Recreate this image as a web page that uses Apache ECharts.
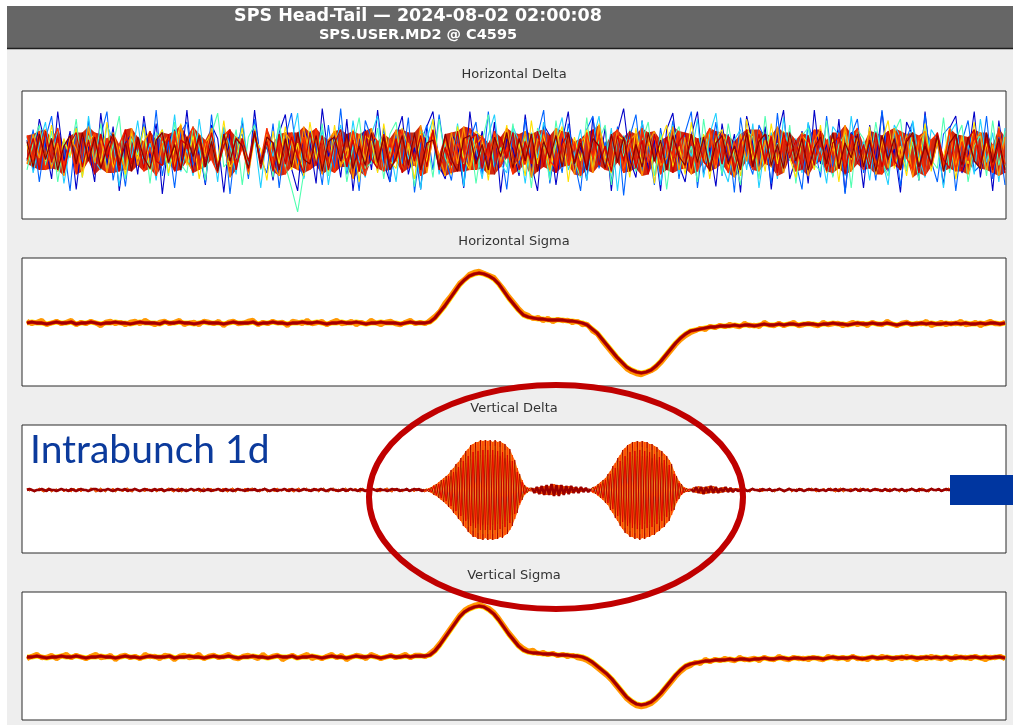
<!DOCTYPE html>
<html>
<head>
<meta charset="utf-8">
<script src="https://cdn.jsdelivr.net/npm/echarts@6/dist/echarts.min.js"></script>
<style>
html, body { margin: 0; padding: 0; background: #ffffff; }
#frame { position: absolute; left: 7px; top: 6px; width: 1006px; height: 719px; background: #eeeeee; }
#chart { position: absolute; left: 0; top: 0; width: 1013px; height: 725px; }
</style>
</head>
<body>
<div id="frame"></div>
<div id="chart"></div>
<script>
// ---- Panel titles and header text ----
const headerTitle = 'SPS Head-Tail \u2014 2024-08-02 02:00:08';
const headerSub = 'SPS.USER.MD2 @ C4595';
const panelTitles = ['Horizontal Delta', 'Horizontal Sigma', 'Vertical Delta', 'Vertical Sigma'];
const noteText = 'Intrabunch 1d';

// ---- Horizontal Delta: turn-by-turn traces (160 slices each), first turn -> last turn ----
const hDeltaColors = ['#0000c8', '#0064ff', '#20d0ff', '#50ffb0', '#ffe000', '#ff9000', '#ff3000', '#d00000', '#8b0000'];
const hDelta1 = [8,-12,22,5,-18,27,-6,14,-25,10,3,-20,26,-9,17,-26,6,12,-15,24,
-4,19,-28,7,15,-10,28,-14,2,-22,18,9,-27,12,-5,21,-16,28,-8,4,
-19,13,25,-11,-26,16,6,-21,29,-3,11,-17,22,-26,8,15,-12,28,-7,-20,
10,24,-15,3,-25,17,27,-9,-18,12,5,-24,27,-6,14,-13,20,-27,9,2,
-16,25,-8,-26,18,11,-22,7,27,-14,4,-19,23,-10,16,-26,13,29,-5,-17,
21,-12,8,-26,15,26,-9,-20,11,27,-15,3,-23,19,-7,12,-27,24,6,-11,
17,-25,10,28,-18,-4,14,-21,28,-8,5,-16,22,-27,13,9,-24,18,-6,27,
-13,2,-27,20,11,-19,27,-10,7,-22,16,24,-14,-3,27,-17,12,-26,21,-9];
const hDelta2 = [-6,15,-20,9,24,-13,4,-26,17,-8,21,-15,11,27,-19,5,-23,14,-2,19,
-11,28,-16,7,-24,13,20,-9,3,-21,25,-12,16,-28,8,12,-18,22,-5,-14,
19,-24,10,26,-7,-17,14,4,-22,18,-11,29,-15,6,-26,21,9,-13,16,-20,
12,-8,23,-27,5,18,-12,25,-4,-19,13,-23,8,20,-15,27,-10,3,-25,14,
-9,22,-17,11,28,-21,6,-14,19,-6,-26,15,24,-11,7,-20,17,-29,10,25,
-13,4,-22,16,-8,21,-18,13,27,-24,9,-5,20,-16,12,-27,23,-3,-15,18,
8,-21,26,-12,14,-7,-25,19,5,-17,24,-10,15,-28,11,22,-14,6,-19,28,
-4,13,-23,9,20,-16,25,-6,-20,12,17,-26,7,21,-13,-9,24,-18,10,-22];
const hDelta3 = [10,-14,5,20,-9,16,-21,3,13,-17,24,-6,-12,18,8,-23,14,-4,21,-11,
6,-19,15,-8,25,-13,2,-16,22,-7,11,-20,17,4,-15,23,-10,9,-24,12,
-3,19,-14,7,26,-18,10,-9,15,-22,5,18,-13,21,-6,-17,12,24,-11,3,
-20,16,-5,13,-25,9,22,-15,6,-10,19,-23,14,2,-18,11,25,-8,-14,17,
7,-21,13,-4,20,-16,9,23,-12,-2,15,-19,8,24,-10,16,-26,11,4,-13,
21,-7,14,-22,6,18,-15,10,-3,22,-17,12,26,-9,-20,8,15,-12,19,-24,
5,13,-18,23,-6,9,-14,20,-11,3,-21,17,11,-16,24,-8,7,-19,14,-5,
-22,18,10,-13,21,-4,-17,15,8,-24,12,19,-10,5,-15,22,-7,13,-20,16];
const hDelta4 = [-12,6,18,-9,14,-20,8,-4,22,-15,11,-7,19,-13,5,24,-18,9,-2,16,
-21,13,7,-16,20,-8,-14,17,3,-19,12,26,-10,-5,15,-22,10,18,-12,6,
-17,21,-9,-24,-40,-14,11,-6,19,-16,8,14,-20,4,23,-11,-7,16,-18,12,
20,-13,6,-23,15,9,-17,22,-4,-12,18,-8,13,-21,7,25,-15,3,-10,19,
-14,11,-24,16,5,-19,21,-9,14,-6,-17,23,-12,8,18,-22,10,-3,15,-13,
7,20,-16,12,-25,9,17,-11,4,-20,22,-7,13,-15,19,-4,-22,14,10,-18,
24,-9,6,-14,18,-21,11,16,-8,-13,21,-17,5,12,-24,15,9,-10,20,-6,
-16,13,22,-12,7,-19,17,-5,-11,23,-14,8,18,-20,4,11,-16,21,-9,14];
const hDelta5 = [5,-10,14,-6,18,-13,9,-3,16,-17,7,12,-8,20,-11,4,-15,13,-5,17,
-12,8,15,-14,3,19,-9,11,-18,6,13,-7,21,-10,-4,16,-15,9,2,-19,
14,-8,17,-12,6,-16,20,-5,10,-13,18,-9,-3,15,-20,11,7,-14,19,-6,
-11,16,4,-18,12,-7,22,-10,8,-15,17,-4,-12,14,9,-19,13,-2,18,-11,
6,-16,21,-8,12,-13,5,17,-20,10,-6,15,-12,19,-3,-14,11,8,-17,16,
-9,13,-21,7,18,-10,4,-15,20,-7,12,-18,9,15,-11,3,-16,22,-6,10,
-13,19,-8,14,-4,-17,11,6,-12,18,-14,9,-20,16,-5,12,-9,17,-15,7,
21,-11,4,-16,13,-7,19,-13,8,-3,15,-18,10,-8,20,-12,6,-14,17,-10];
const hDelta6 = [-8,12,-4,15,-11,6,-16,10,2,-13,17,-7,9,-14,13,-2,-12,16,-9,7,
14,-15,5,11,-10,18,-6,-13,12,-3,16,-11,8,-17,10,4,-14,15,-7,12,
-9,-16,13,7,-12,17,-5,10,-15,8,14,-10,3,-18,12,-6,16,-11,9,-4,
15,-13,6,-9,18,-14,11,-2,-16,13,-8,17,-12,5,10,-15,12,-7,16,-10,
-5,14,-17,9,3,-12,16,-8,13,-15,7,11,-14,18,-6,-10,15,-13,8,12,
-16,6,14,-9,-4,17,-12,10,-15,9,-7,16,-11,13,4,-17,12,-6,15,-13,
8,-10,17,-14,11,-5,13,-16,7,15,-12,3,-9,18,-13,10,-7,14,-15,9,
-11,16,-4,12,-17,8,14,-10,6,-13,16,-9,11,-15,7,13,-12,5,-16,10];
const hDelta7 = [11,-6,14,-12,4,16,-10,7,-15,12,-3,13,-11,9,-14,5,15,-8,10,-13,
3,-16,12,-7,14,-10,6,17,-12,8,-5,-14,11,15,-9,3,-13,12,-6,16,
-11,8,-15,13,-4,10,-12,16,-8,5,-14,11,-10,14,-3,-16,12,7,-13,9,
-6,15,-11,12,-16,4,13,-9,10,-14,6,-7,16,-12,11,-5,14,-10,3,-15,
12,-8,10,-13,15,-6,-11,14,-9,7,-16,13,-4,11,-12,9,15,-14,6,-10,
16,-7,12,-15,8,-3,14,-11,10,-13,5,16,-9,12,-14,7,-5,13,-12,15,
-8,11,-16,9,4,-13,12,-10,15,-6,8,-14,13,-11,6,16,-12,10,-7,-15,
13,-9,14,-4,-12,11,-16,8,12,-10,15,-13,7,-6,14,-11,9,-14,16,-8];
const hDelta8 = [-5,9,-12,14,-7,11,-14,6,13,-10,8,-15,12,-4,10,-13,15,-8,7,-11,
14,-6,-9,12,-13,8,5,-14,11,-7,13,-10,4,15,-12,9,-6,14,-11,7,
-13,12,-8,10,-3,-14,13,-9,11,-12,6,15,-10,8,-13,14,-5,-11,12,-7,
9,-14,13,-6,11,-10,15,-12,3,-9,14,-13,8,12,-11,6,-15,10,-4,13,
-12,7,-8,14,-10,11,-14,5,13,-7,9,-12,15,-9,4,-13,11,-6,14,-11,
8,-15,12,-5,10,-14,7,13,-11,9,-6,-12,14,-8,11,-13,6,15,-10,12,
-7,10,-14,13,-4,8,-12,11,-9,14,-13,6,10,-15,12,-8,5,-11,13,-10,
14,-6,-12,9,11,-14,7,-9,13,-5,-11,12,-13,8,15,-7,10,-12,6,-14];
const hDelta9 = [7,-10,12,-5,9,-12,4,11,-8,13,-6,10,-11,3,12,-9,6,-13,10,-4,
-11,8,13,-7,5,-12,10,-3,11,-10,7,-13,12,-6,9,4,-11,13,-8,10,
6,-12,9,-10,13,-5,-8,11,-13,7,10,-6,12,-11,4,-9,13,-7,10,-12,
-4,11,-9,13,-12,6,8,-10,12,-5,-13,9,11,-8,5,-12,10,-3,13,-11,
9,-6,12,-13,7,-4,11,-10,13,-8,6,-12,9,4,-11,12,-7,10,-13,5,
-10,13,-6,8,-12,11,-3,-9,12,-7,10,-13,6,11,-8,4,-12,13,-10,7,
12,-9,5,-11,13,-6,9,-12,3,10,-8,13,-11,6,-4,12,-10,8,-13,11,
-5,9,-12,7,13,-10,4,-8,11,-13,6,12,-9,10,-6,-11,13,-7,9,-12];

// ---- Horizontal Sigma (200 slices): early turn and late turn ----
const hSigmaEarly = [2,-1,1,3,-2,0,2,-1,1,3,-2,1,-1,2,0,-3,1,2,-1,1,
-2,1,2,-1,3,0,-2,1,2,-1,1,3,-2,0,1,-2,2,1,-1,2,
-3,1,2,-1,0,2,3,-2,1,-1,2,0,1,-3,2,1,-1,3,-1,0,
2,-2,1,3,-1,0,2,-2,1,-1,3,0,-2,1,2,-1,-2,1,3,-1,
1,-1,3,7,12,20,26,33,40,44,49,51,52,50,48,46,40,34,27,21,
15,10,8,4,6,2,5,1,4,2,3,0,2,-2,-1,-8,-11,-18,-24,-30,
-36,-41,-46,-49,-51,-52,-50,-48,-45,-40,-34,-28,-22,-17,-13,-10,-8,-5,-7,-3,
-5,-2,-4,-1,-3,-4,0,-3,-2,-4,1,-2,-3,0,-3,-1,1,-3,-2,0,
-2,-3,1,-2,-1,0,-3,-1,1,-2,0,-3,1,-1,-2,2,-1,-3,0,1,
-2,0,-1,2,-3,-1,1,-2,0,-1,2,-2,-1,1,-3,0,2,-1,-1,1];
const hSigmaLate = [0,1,0,0,-1,0,1,0,0,1,-1,0,0,1,0,-1,0,0,1,0,
0,-1,0,1,0,0,0,-1,1,0,0,1,0,0,-1,0,1,0,0,0,
-1,0,1,0,0,0,1,-1,0,0,1,0,0,-1,0,0,1,0,0,1,
0,-1,0,0,1,0,0,1,0,-1,0,0,1,0,0,0,-1,0,1,0,
0,0,1,5,11,17,24,31,38,43,47,49,50,49,47,44,39,32,25,19,
13,8,6,5,4,4,3,3,3,3,2,2,1,0,-2,-6,-10,-16,-22,-28,
-34,-39,-44,-47,-49,-50,-49,-47,-43,-38,-32,-26,-20,-15,-11,-8,-7,-6,-5,-4,
-4,-3,-3,-3,-2,-3,-2,-2,-3,-2,-1,-2,-2,-1,-2,-1,-1,-2,-1,-1,
-1,-2,-1,-1,0,-1,-1,-2,-1,0,-1,-1,0,-1,-1,0,-1,-2,-1,0,
-1,-1,0,-1,0,-1,-1,0,-1,0,-1,0,-1,-1,0,-1,0,0,-1,0];

// ---- Vertical Sigma (200 slices): early turn and late turn ----
const vSigmaEarly = [-2,1,3,-1,0,2,-2,1,3,-1,2,0,-2,1,3,-1,0,2,-3,1,
2,-1,1,-2,3,0,1,-2,2,1,-3,1,2,-1,0,3,-2,1,2,-1,
1,3,-1,-2,1,2,0,-2,3,-1,1,2,-3,0,2,-1,1,3,-2,0,
-2,1,3,-1,2,-3,0,2,1,-2,3,1,-2,0,2,-1,1,3,-1,2,
2,0,4,8,14,21,28,35,42,47,50,52,53,51,49,45,39,32,25,19,
13,9,6,7,3,5,2,4,1,3,0,2,-1,-2,-4,-7,-11,-15,-19,-24,
-30,-36,-42,-46,-49,-50,-49,-47,-43,-38,-32,-26,-20,-15,-11,-9,-5,-7,-2,-5,
-2,-4,-1,-3,-4,0,-3,-2,-1,-4,0,-2,-3,1,-2,-3,0,-2,-1,-3,
0,-2,-3,1,-1,-2,0,-3,1,-2,-1,-3,0,-2,1,-1,-3,0,-2,1,
-1,-3,0,-2,1,-1,-2,0,-3,1,-1,0,-2,1,-1,-3,0,-1,1,-2];
const vSigmaLate = [0,0,1,0,-1,0,0,1,0,0,1,0,-1,0,0,1,0,0,-1,0,
1,0,0,-1,0,1,0,0,0,1,-1,0,0,1,0,0,-1,0,1,0,
0,1,0,-1,0,0,1,0,0,-1,0,1,0,0,1,-1,0,0,1,0,
-1,0,1,0,0,-1,0,1,0,0,1,0,-1,0,1,0,0,1,0,1,
1,1,2,6,12,19,26,33,40,45,48,50,51,50,47,43,37,30,23,17,
11,7,5,4,4,3,3,3,2,2,2,1,1,0,-2,-5,-9,-13,-17,-22,
-28,-34,-40,-44,-47,-48,-47,-45,-41,-36,-30,-24,-18,-13,-9,-7,-6,-5,-4,-4,
-3,-3,-3,-2,-3,-2,-2,-3,-2,-2,-1,-2,-2,-1,-1,-2,-1,-1,-2,-1,
-1,-1,-2,-1,0,-1,-1,-1,0,-1,-2,-1,0,-1,-1,0,-1,-1,0,-1,
0,-1,-1,0,-1,0,-1,0,-1,-1,0,-1,0,0,-1,0,-1,0,0,-1];

// ---- Vertical Delta (400 slices) split into segments: lead, burst 1, gap, burst 2, tail ----
const vdLeadA = [0,1,0,-1,0,0,1,0,-1,1,0,0,-1,0,1,0,0,-1,1,0,
-1,0,1,0,0,-1,0,1,1,0,-1,0,0,1,0,-1,0,1,0,0,
1,-1,0,0,1,0,-1,0,1,0,0,-1,1,0,0,1,-1,0,0,1,
0,0,-1,1,0,-1,0,1,0,0,1,0,-1,0,1,-1,0,0,1,0,
-1,1,0,0,-1,0,1,0,0,-1,1,0,0,1,-1,0,0,1,0,-1,
0,1,-1,0,0,1,0,-1,1,0,0,-1,0,1,0,0,-1,1,0,0,
1,0,-1,0,1,0,0,-1,0,1,-1,0,1,0,0,-1,1,0,-1,0,
0,1,0,-1,1,0,0,-1,0,1,0,1,-1,0,0,1,-1,0,1,0,
1,-1,0];
const vdLeadB = [2,-1,1,-2,0,2,-1,-2,1,2,-2,0,1,-1,2,-2,1,0,-2,2,
-1,2,-2,1,0,-1,2,1,-2,-1,2,0,-2,1,-1,2,-2,0,1,-2,
1,2,-1,-2,2,0,-1,1,-2,2,-1,1,0,-2,2,-1,-2,1,2,-1,
-2,1,2,-2,0,1,-1,2,-2,1,-1,-2,2,0,-1,2,-2,1,1,-2,
2,-1,-2,1,2,-2,0,1,-1,2,-2,1,2,-1,0,-2,1,2,-2,-1,
1,-2,2,0,-1,1,-2,2,-1,-2,1,2,-1,0,2,-2,1,-1,2,-2,
0,2,-1,-2,1,2,-2,1,-1,0,2,-2,1,-1,2,-1,-2,2,0,1,
-2,1,-1,2,-2,0,1,2,-1,-2,2,-1,1,-2,0,2,-1,1,-2,2,
-1,1,-2];
const vdGapA = [2,-3,3,-4,4,-5,5,-5,6,-6,5,-6,5,-5,4,-4,4,-3,3,-3,3,-2,2,-2,1];
const vdGapB = [-1,2,-3,3,-4,4,-5,4,-5,6,-5,5,-4,4,-3,4,-3,3,-2,2,-2,2,-1,1,-1];
const vdTailA = [1,-2,3,-3,3,-4,3,-3,4,-3,3,-3,2,-2,3,-2,2,-2,1,-1,
0,1,0,-1,0,1,0,0,-1,1,0,0,1,-1,0,0,1,0,-1,0,
1,0,0,-1,1,0,-1,0,1,0,0,1,-1,0,0,-1,1,0,0,1,
-1,0,1,0,0,-1,0,1,0,-1,1,0,0,-1,0,1,0,0,-1,1,
0,-1,0,1,0,0,1,-1,0,0,1,0,-1,1,0,0,-1,0,1,0,
0,1,-1,0,1,0,0,-1,1,0,0,-1,0,1,-1,0,0,1,0,-1,
1,0,0,-1,0,1,0,-1,0];
const vdTailB = [-1,3,-3,4,-4,3,-4,4,-3,4,-3,2,-3,3,-2,2,-2,2,-1,2,
-2,1,2,-1,-2,2,0,-1,2,-2,1,-1,2,0,-2,1,2,-1,-2,1,
2,-2,0,1,-1,2,-2,1,-1,2,0,-2,1,-1,2,-2,1,2,-1,-2,
1,2,-2,0,-1,2,-1,1,-2,2,0,-1,2,-2,1,-1,2,-2,0,1,
-2,2,-1,1,0,-2,2,-1,-2,1,2,-1,0,-2,2,1,-1,-2,2,0,
-1,2,-2,1,-1,2,0,-2,1,2,-1,-2,1,-1,2,-2,0,1,-1,2,
-2,1,0,-1,2,-2,1,-1,2];

// burst 1 (43 slices) per turn
const vdBurst1A = [1,-2,3,-5,6,-8,10,-12,14,-17,20,-23,26,-29,32,-36,39,-42,45,-47,48,-49,50,-50,50,-50,50,-50,50,-49,49,-48,46,-44,41,-36,30,-23,16,-10,5,-3,2];
const vdBurst1B = [-1,2,-3,5,-6,8,-10,12,-14,16,-19,22,-25,28,-31,35,-38,41,-44,46,-47,48,-49,49,-48,49,-49,48,-49,48,-47,47,-45,43,-40,35,-29,22,-15,10,-5,3,-1];
const vdBurst1C = [1,-1,3,-4,5,-7,9,-11,12,-15,18,-20,23,-26,28,-32,34,-37,40,-41,42,-43,44,-44,44,-44,44,-44,44,-43,43,-42,40,-39,36,-32,26,-20,14,-9,4,-3,1];
const vdBurst1D = [-1,1,-2,4,-5,6,-8,10,-11,14,-16,18,-21,23,-26,29,-31,34,-36,38,-38,39,-40,40,-40,40,-40,40,-40,39,-39,38,-37,35,-33,29,-24,18,-13,8,-4,2,-1];
const vdBurst1E = [0,-1,2,-3,4,-5,6,-7,8,-10,12,-14,16,-17,19,-22,23,-25,27,-28,29,-29,30,-30,30,-30,30,-30,30,-29,29,-29,28,-26,25,-22,18,-14,10,-6,3,-2,1];
const vdBurst1F = [1,-1,2,-3,4,-6,7,-8,10,-12,14,-16,18,-20,22,-25,27,-29,31,-33,34,-34,35,-35,35,-35,35,-35,35,-34,34,-34,32,-31,29,-25,21,-16,11,-7,3,-2,1];
// burst 2 (40 slices) per turn
const vdBurst2A = [3,-4,6,-8,10,-13,16,-20,24,-28,32,-36,40,-43,45,-47,48,-49,49,-50,49,-49,48,-47,46,-45,43,-41,39,-37,34,-31,26,-20,14,-9,6,-3,2,-2];
const vdBurst2B = [-3,4,-6,8,-10,12,-15,19,-23,27,-31,35,-39,42,-44,46,-47,48,-48,48,-48,48,-47,46,-45,44,-42,40,-38,36,-33,30,-25,19,-13,9,-5,3,-2,1];
const vdBurst2C = [2,-3,5,-7,9,-11,14,-17,21,-25,28,-32,35,-38,40,-41,42,-43,43,-44,43,-43,42,-41,40,-40,38,-36,34,-33,30,-27,23,-18,12,-8,5,-3,2,-1];
const vdBurst2D = [-2,3,-5,6,-8,10,-13,16,-19,22,-26,29,-32,34,-36,38,-38,39,-39,40,-39,39,-38,38,-37,36,-34,33,-31,30,-27,25,-21,16,-11,7,-5,2,-2,1];
const vdBurst2E = [2,-2,4,-5,6,-8,10,-12,14,-17,19,-22,24,-26,27,-28,29,-29,29,-30,29,-29,29,-28,28,-27,26,-25,23,-22,20,-19,16,-12,8,-5,4,-2,1,-1];
const vdBurst2F = [2,-3,4,-6,7,-9,11,-14,17,-20,22,-25,28,-30,32,-33,34,-34,34,-35,34,-34,34,-33,32,-32,30,-29,27,-26,24,-22,18,-14,10,-6,4,-2,1,-1];

// ---- Layout ----
const PANEL_LEFT = 22, PANEL_WIDTH = 984;
const panelTops = [91, 258, 425, 592];
const panelHeight = 128;
const panelCenterX = PANEL_LEFT + PANEL_WIDTH / 2;

const chart = echarts.init(document.getElementById('chart'), null, { renderer: 'canvas' });

const common = { silent: true, animation: false, clip: true, emphasis: { disabled: true } };

function trace(values, panel, color, width) {
  return Object.assign({
    type: 'line', xAxisIndex: panel, yAxisIndex: panel,
    data: values.map((v, i) => [i, v]),
    symbol: 'none', showSymbol: false,
    lineStyle: { color: color, width: width },
    itemStyle: { color: color }
  }, common);
}

// filled spread between the lowest and highest of several turns at every slice
function spread(traces, panel, color, opacity) {
  const lo = [], hi = [];
  for (let i = 0; i < traces[0].length; i++) {
    let a = Infinity, b = -Infinity;
    traces.forEach(t => { a = Math.min(a, t[i]); b = Math.max(b, t[i]); });
    lo.push(a);
    hi.push(b);
  }
  return Object.assign({
    type: 'custom', coordinateSystem: 'cartesian2d', xAxisIndex: panel, yAxisIndex: panel,
    data: [[0, 0]],
    renderItem: function (params, api) {
      const pts = [];
      for (let i = 0; i < hi.length; i++) pts.push(api.coord([i, hi[i]]));
      for (let i = lo.length - 1; i >= 0; i--) pts.push(api.coord([i, lo[i]]));
      return { type: 'polygon', shape: { points: pts }, style: { fill: color, opacity: opacity } };
    }
  }, common);
}

const series = [];
// Horizontal Delta: early turns (blue..yellow) underneath, the dense core of the
// late turns over them, then the late turns themselves on top
const hDeltaTurns = [hDelta1, hDelta2, hDelta3, hDelta4, hDelta5, hDelta6, hDelta7, hDelta8, hDelta9];
hDeltaTurns.slice(0, 5).forEach((arr, k) => series.push(trace(arr, 0, hDeltaColors[k], 1.1)));
series.push(spread(hDeltaTurns.slice(5), 0, '#d01c00', 0.95));
hDeltaTurns.slice(5).forEach((arr, k) => series.push(trace(arr, 0, hDeltaColors[k + 5], 1.3)));

// Sigma panels: layered turns give the coloured fringe round a dark red core
function sigmaLayers(early, late, panel) {
  series.push(trace(early, panel, '#1a3cff', 1.4));
  series.push(trace(early, panel, '#30e8ff', 1));
  series.push(trace(late, panel, '#ffe400', 5.2));
  series.push(trace(early, panel, '#ff9800', 4.4));
  series.push(trace(late, panel, '#e82000', 3.6));
  series.push(trace(late, panel, '#a00000', 2.8));
}
sigmaLayers(hSigmaEarly, hSigmaLate, 1);

// Vertical Delta: six turns, each the lead, two bursts, the gap and the tail
const vdTurns = [
  { color: '#2050ff', parts: [vdLeadB, vdBurst1E, vdGapB, vdBurst2E, vdTailB], w: 1 },
  { color: '#ffd800', parts: [vdLeadB, vdBurst1C, vdGapA, vdBurst2C, vdTailB], w: 1 },
  { color: '#ff8c00', parts: [vdLeadA, vdBurst1F, vdGapB, vdBurst2F, vdTailA], w: 1 },
  { color: '#ff4500', parts: [vdLeadB, vdBurst1B, vdGapB, vdBurst2B, vdTailB], w: 1 },
  { color: '#e00000', parts: [vdLeadA, vdBurst1D, vdGapA, vdBurst2D, vdTailA], w: 0.9 },
  { color: '#a00000', parts: [vdLeadA, vdBurst1A, vdGapA, vdBurst2A, vdTailA], w: 0.8 }
];
const vdTraces = vdTurns.map(t => [].concat(...t.parts));
series.push(spread(vdTraces, 2, '#ff6a00', 0.9));
vdTurns.forEach((t, k) => series.push(trace(vdTraces[k], 2, t.color, t.w)));
// the quiet stretches of the last turn, drawn heavier (no line across the bursts)
const vdQuiet = [].concat(vdLeadA, new Array(vdBurst1A.length).fill(null), vdGapA,
  new Array(vdBurst2A.length).fill(null), vdTailA);
series.push(Object.assign(trace(vdQuiet, 2, '#9a0000', 2.6), { connectNulls: false }));

sigmaLayers(vSigmaEarly, vSigmaLate, 3);

// slice counts per panel set the x range so traces start 5px inside the frame
const sliceCounts = [hDelta1.length, hSigmaLate.length, vdTraces[0].length, vSigmaLate.length];
// Delta H is plotted at 1.5 px per unit, the others at 1 px per unit
const yRanges = [[-44.7, 40.7], [-63, 65], [-63, 65], [-63, 65]];

const grid = panelTops.map(t => ({
  left: PANEL_LEFT, width: PANEL_WIDTH, top: t, height: panelHeight,
  show: true, backgroundColor: '#ffffff', borderColor: '#2a2a2a', borderWidth: 1
}));
const xAxis = sliceCounts.map((n, i) => {
  const step = (PANEL_WIDTH - 6) / (n - 1);
  return { gridIndex: i, type: 'value', show: false, min: -5 / step, max: (n - 1) + 1 / step };
});
const yAxis = yRanges.map((r, i) => ({ gridIndex: i, type: 'value', show: false, min: r[0], max: r[1] }));

const graphic = [
  { type: 'rect', shape: { x: 7, y: 6, width: 1006, height: 42 }, style: { fill: '#666666' }, z: 1 },
  { type: 'line', shape: { x1: 7, y1: 48.5, x2: 1013, y2: 48.5 }, style: { stroke: '#1e1e1e', lineWidth: 1.5 }, z: 1 },
  { type: 'text', x: 418, y: 16.5, z: 2, style: { text: headerTitle, fill: '#ffffff', font: 'bold 17.5px "DejaVu Sans"', textAlign: 'center', textVerticalAlign: 'middle' } },
  { type: 'text', x: 418, y: 35.5, z: 2, style: { text: headerSub, fill: '#ffffff', font: 'bold 14.5px "DejaVu Sans"', textAlign: 'center', textVerticalAlign: 'middle' } }
];
panelTitles.forEach((t, i) => {
  graphic.push({ type: 'text', x: panelCenterX, y: panelTops[i] - 16.5, z: 2,
    style: { text: t, fill: '#333333', font: '13px "DejaVu Sans"', textAlign: 'center', textVerticalAlign: 'middle' } });
});
// annotation: label, highlight ring round the bursts, marker bar on the right
graphic.push({ type: 'text', x: 30, y: 450, z: 50,
  style: { text: noteText, fill: '#0b3a9c', font: '39px Lato', textAlign: 'left', textVerticalAlign: 'middle' } });
graphic.push({ type: 'ellipse', shape: { cx: 556, cy: 497, rx: 187, ry: 112 }, z: 50,
  style: { fill: 'none', stroke: '#c00000', lineWidth: 6 } });
graphic.push({ type: 'rect', shape: { x: 950, y: 475, width: 63, height: 30 }, z: 50,
  style: { fill: '#0036a0' } });

chart.setOption({
  animation: false,
  backgroundColor: 'transparent',
  grid: grid,
  xAxis: xAxis,
  yAxis: yAxis,
  series: series,
  graphic: graphic
});
</script>
</body>
</html>
